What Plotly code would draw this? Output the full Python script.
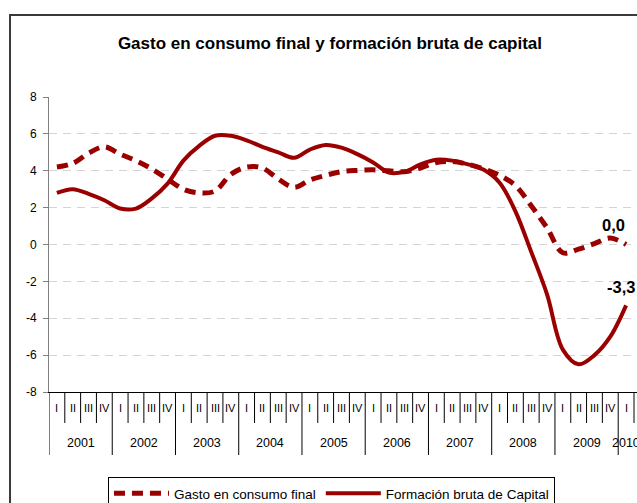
import plotly.graph_objects as go

# Quarterly year-on-year growth rates, 2001 Q1 - 2010 Q1
years = ["2001", "2002", "2003", "2004", "2005", "2006", "2007", "2008", "2009", "2010"]
quarters = ["I", "II", "III", "IV"]

gasto_consumo = [
    4.2, 4.4, 4.95, 5.3,
    4.9, 4.55, 4.1, 3.55,
    3.0, 2.8, 2.9, 3.8,
    4.2, 4.15, 3.55, 3.1,
    3.5, 3.75, 3.95, 4.02,
    4.05, 4.0, 3.95, 4.15,
    4.45, 4.5, 4.35, 4.1,
    3.75, 3.2, 2.1, 0.9,
    -0.45, -0.25, 0.05, 0.35,
    0.0,
]
formacion_capital = [
    2.8, 3.0, 2.75, 2.4,
    1.95, 1.95, 2.5, 3.3,
    4.55, 5.35, 5.9, 5.9,
    5.65, 5.3, 5.0, 4.7,
    5.15, 5.4, 5.25, 4.9,
    4.45, 3.9, 3.95, 4.35,
    4.6, 4.55, 4.35, 4.05,
    3.35, 1.8, -0.4, -2.7,
    -5.7, -6.5, -6.0, -5.0,
    -3.3,
]
y_ticks = [8, 6, 4, 2, 0, -2, -4, -6, -8]

n = len(gasto_consumo)
idx = list(range(n))
RED = "#9B0000"
FONT = "Liberation Sans, Arial, sans-serif"

fig = go.Figure()
fig.add_trace(go.Scatter(
    x=idx, y=gasto_consumo, mode="lines", name="Gasto en consumo final",
    line=dict(color=RED, width=5, dash="11px,7px", shape="spline"),
))
fig.add_trace(go.Scatter(
    x=idx, y=formacion_capital, mode="lines", name="Formación bruta de Capital",
    line=dict(color=RED, width=4, shape="spline"),
))

# Value labels on the last observation of each series
def fmt(v):
    return f"{v:.1f}".replace(".", ",").replace("-0,0", "0,0")

fig.add_annotation(x=idx[-1], y=gasto_consumo[-1], text=fmt(gasto_consumo[-1]),
                   showarrow=False, xshift=-13, yshift=20,
                   font=dict(family=FONT, size=16.5, color="#000", weight="bold"))
fig.add_annotation(x=idx[-1], y=formacion_capital[-1], text=fmt(formacion_capital[-1]),
                   showarrow=False, xshift=-5, yshift=18,
                   font=dict(family=FONT, size=16.5, color="#000", weight="bold"))

# Two-level category axis: quarter row and year row with separators
Q_ROW_Y = -0.0542
Q_ROW_BOTTOM = -0.105
Y_ROW_Y = -0.173
Y_ROW_BOTTOM = -0.2136
shapes = []
annotations = []
for i in idx:
    q = quarters[i % 4]
    y = years[i // 4]
    annotations.append(dict(x=i, y=Q_ROW_Y, xref="x", yref="paper", text=q,
                            showarrow=False, yanchor="middle",
                            font=dict(family=FONT, size=11, color="#000")))
    if i % 4 == 0:
        center = i + 1.5 if y != years[-1] else i
        annotations.append(dict(x=center, y=Y_ROW_Y, xref="x", yref="paper", text=y,
                                showarrow=False, yanchor="middle",
                                font=dict(family=FONT, size=12.5, color="#000")))
    left = i - 0.5
    bottom = Y_ROW_BOTTOM if i % 4 == 0 else Q_ROW_BOTTOM
    shapes.append(dict(type="line", xref="x", yref="paper", x0=left, x1=left,
                       y0=0, y1=bottom, line=dict(color="#000", width=1)))
shapes.append(dict(type="line", xref="x", yref="paper", x0=n - 0.5, x1=n - 0.5,
                   y0=0, y1=Q_ROW_BOTTOM, line=dict(color="#000", width=1)))

# Outer chart frame
shapes.append(dict(type="rect", xref="paper", yref="paper", x0=-0.0663, x1=1.1,
                   y0=-0.6, y1=1.278, line=dict(color="#3a3a3a", width=2),
                   fillcolor="rgba(0,0,0,0)", layer="below"))

for a in annotations:
    fig.add_annotation(**a)

fig.update_layout(
    width=637, height=503,
    margin=dict(l=49, r=0, t=97, b=111, autoexpand=False),
    paper_bgcolor="white", plot_bgcolor="white",
    font=dict(family=FONT, color="#000"),
    title=dict(text="Gasto en consumo final y formación bruta de capital",
               x=0.518, xref="container", xanchor="center",
               y=1 - 43 / 503, yref="container", yanchor="middle",
               font=dict(family=FONT, size=17, color="#000", weight="bold")),
    shapes=shapes,
    showlegend=True,
    legend=dict(orientation="h", x=0.1003, y=-0.288, xanchor="left", yanchor="top",
                bordercolor="#000", borderwidth=1, bgcolor="white",
                font=dict(family=FONT, size=13.5, color="#000"),
                itemwidth=55, tracegroupgap=0),
    xaxis=dict(range=[-0.5, 36.69], showticklabels=False, showgrid=False,
               zeroline=False, showline=True, linecolor="#000", linewidth=1,
               ticks=""),
    yaxis=dict(range=[-8, 8], tickvals=y_ticks, ticktext=[str(t) for t in y_ticks],
               showgrid=True, gridcolor="#d4d4d4", griddash="8px,6px", gridwidth=1,
               zeroline=False, showline=True, linecolor="#808080", linewidth=1,
               ticks="outside", ticklen=5, tickcolor="#808080", ticklabelstandoff=4,
               tickfont=dict(family=FONT, size=12, color="#000")),
)

fig.write_html("out.html")
